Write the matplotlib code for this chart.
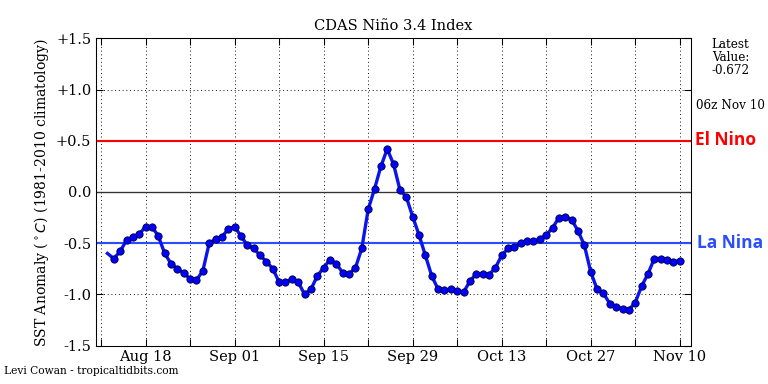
import datetime as dt
import numpy as np
import matplotlib
matplotlib.use('Agg')
import matplotlib.pyplot as plt
import matplotlib.dates as mdates

# daily CDAS Nino 3.4 anomaly, Aug 12 - Nov 10
start_date = dt.datetime(2016, 8, 12)
anomaly = [
    -0.60, -0.65, -0.58, -0.47, -0.44, -0.41, -0.34, -0.34, -0.43, -0.60,
    -0.70, -0.75, -0.79, -0.85, -0.86, -0.77, -0.50, -0.46, -0.44, -0.36,
    -0.34, -0.43, -0.52, -0.55, -0.62, -0.68, -0.75, -0.88, -0.88, -0.85,
    -0.88, -1.00, -0.95, -0.82, -0.74, -0.66, -0.70, -0.79, -0.80, -0.74,
    -0.55, -0.17, 0.03, 0.25, 0.42, 0.27, 0.02, -0.05, -0.24, -0.42,
    -0.62, -0.82, -0.95, -0.96, -0.95, -0.97, -0.98, -0.87, -0.80, -0.80,
    -0.81, -0.74, -0.62, -0.55, -0.54, -0.50, -0.48, -0.48, -0.46, -0.42,
    -0.35, -0.25, -0.24, -0.27, -0.38, -0.52, -0.78, -0.95, -0.99, -1.09,
    -1.12, -1.14, -1.15, -1.08, -0.92, -0.80, -0.65, -0.65, -0.66, -0.68,
    -0.672,
]
dates = [start_date + dt.timedelta(days=i) for i in range(len(anomaly))]

el_nino = 0.5
la_nina = -0.5
ytick_vals = [1.5, 1.0, 0.5, 0.0, -0.5, -1.0, -1.5]
ytick_labels = ['+1.5', '+1.0', '+0.5', '0.0', '-0.5', '-1.0', '-1.5']
latest = anomaly[-1]

plt.rcParams['font.family'] = 'DejaVu Serif'
fig = plt.figure(figsize=(8, 4), dpi=96)
ax = fig.add_axes([0.125, 0.1, 0.775, 0.8])

xmin = dates[0] - dt.timedelta(days=1.8)
xmax = dates[-1] + dt.timedelta(days=1.8)

ax.plot([xmin, xmax], [el_nino, el_nino], color='red', lw=1.6, zorder=2)
ax.plot([xmin, xmax], [la_nina, la_nina], color='#2a4dff', lw=1.6, zorder=2)
ax.axhline(0, color='#333333', lw=1, zorder=2)
ax.plot(dates, anomaly, color='#0a14ee', lw=2.5, marker='o', ms=5.5,
        mfc='#0000ff', mec='#000033', mew=0.6, markevery=slice(1, None), zorder=3)

ax.set_xlim(xmin, xmax)
ax.set_ylim(-1.5, 1.5)
ax.set_yticks(ytick_vals)
ax.set_yticklabels(ytick_labels, fontsize=11)

weekly = [dt.datetime(2016, 8, 11) + dt.timedelta(days=7 * k) for k in range(14)]
ax.set_xticks(weekly)
ax.set_xticklabels([d.strftime('%b %d') if k % 2 == 1 else '' for k, d in enumerate(weekly)],
                   fontsize=11)
ax.tick_params(direction='in', top=True, right=True, length=5)
ax.grid(True, color='black', linestyle=(0, (1, 3)), lw=0.7)

ax.set_title('CDAS Niño 3.4 Index', fontsize=11)
ax.set_ylabel('SST Anomaly ($^\\circ C$) (1981-2010 climatology)', fontsize=10.5)

fig.text(0.951, 0.902, 'Latest\nValue:\n%.3f' % latest, ha='center', va='top',
         fontsize=9, linespacing=1.0)
fig.text(0.951, 0.725, '06z Nov 10', ha='center', va='center', fontsize=9)
fig.text(0.905, 0.635, 'El Nino', color='red', fontsize=13, fontweight='bold',
         family='Open Sans', va='center')
fig.text(0.908, 0.366, 'La Nina', color='#2a4dff', fontsize=13, fontweight='bold',
         family='Open Sans', va='center')
fig.text(0.005, 0.025, 'Levi Cowan - tropicaltidbits.com', fontsize=8)

fig.savefig('out.png', dpi=96)
